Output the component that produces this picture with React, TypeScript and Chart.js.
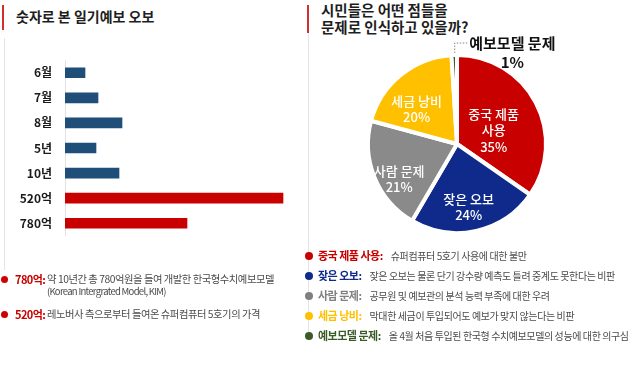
import React, { useEffect, useRef } from 'react';
import { Chart, registerables } from 'chart.js';

Chart.register(...registerables);

// ---------- data ----------
const barCategories = ['6월', '7월', '8월', '5년', '10년', '520억', '780억'];
const barValues = [20, 33, 57, 31, 54, 218, 122];
const barGroups = ['blue', 'blue', 'blue', 'blue', 'blue', 'red', 'red'];

const pieLabels = ['중국 제품 사용', '잦은 오보', '사람 문제', '세금 낭비', '예보모델 문제'];
const pieLabelLines = [['중국 제품', '사용'], ['잦은 오보'], ['사람 문제'], ['세금 낭비'], ['예보모델 문제']];
const pieValues = [35, 24, 21, 20, 1];
const pieDescriptions = [
  '슈퍼컴퓨터 5호기 사용에 대한 불만',
  '잦은 오보는 물론 단기 강수량 예측도 틀려 중계도 못한다는 비판',
  '공무원 및 예보관의 분석 능력 부족에 대한 우려',
  '막대한 세금이 투입되어도 예보가 맞지 않는다는 비판',
  '올 4월 처음 투입된 한국형 수치예보모델의 성능에 대한 의구심',
];

const noteLabels = ['780억:', '520억:'];
const noteTexts = [
  ['약 10년간 총 780억원을 들여 개발한 한국형수치예보모델', '(Korean Intergrated Model, KIM)'],
  ['레노버사 측으로부터 들여온 슈퍼컴퓨터 5호기의 가격'],
];

// ---------- styles ----------
const FONT = '"Noto Sans CJK KR", "Noto Sans", sans-serif';
const groupColors: Record<string, string> = { blue: '#1f4e79', red: '#c80000' };
const pieColors = ['#c80000', '#0f2a8a', '#8a8a8a', '#ffc000', '#3a5a26'];
const legendColors = ['#c80000', '#0f2a8a', '#808080', '#ffc000', '#3a5a26'];
const labelRadiusFrac = [0.44, 0.72, 0.76, 0.6, 0];
const labelAngleShift = [7, 2, -9, -10, 0];

const pieLabelPlugin = {
  id: 'pieLabels',
  afterDatasetsDraw(chart: any) {
    const ctx = chart.ctx;
    const meta = chart.getDatasetMeta(0);
    meta.data.forEach((arc: any, i: number) => {
      const p = arc.getProps(['x', 'y', 'startAngle', 'endAngle', 'outerRadius'], true);
      const mid = (p.startAngle + p.endAngle) / 2;
      const value = pieValues[i] + '%';
      ctx.save();
      if (i === 4) {
        const px = p.x + Math.cos(mid) * p.outerRadius;
        const py = p.y + Math.sin(mid) * p.outerRadius;
        const ly = py - 12;
        ctx.strokeStyle = '#888';
        ctx.lineWidth = 1;
        ctx.setLineDash([1.5, 1.5]);
        ctx.beginPath();
        ctx.moveTo(px + 0.5, py - 2);
        ctx.lineTo(px + 0.5, ly);
        ctx.lineTo(px + 13, ly);
        ctx.stroke();
        ctx.setLineDash([]);
        ctx.fillStyle = '#111';
        ctx.font = 'bold 15px ' + FONT;
        ctx.textBaseline = 'middle';
        ctx.textAlign = 'left';
        const tx = px + 15;
        const label = pieLabelLines[i][0];
        const w = ctx.measureText(label).width;
        ctx.fillText(label, tx, ly);
        ctx.textAlign = 'center';
        ctx.fillText(value, tx + w / 2, py + 7);
      } else {
        const a = mid + (labelAngleShift[i] * Math.PI) / 180;
        const r = p.outerRadius * labelRadiusFrac[i];
        const cx = p.x + Math.cos(a) * r;
        const cy = p.y + Math.sin(a) * r;
        const lines = [...pieLabelLines[i], value];
        const lh = 16.5;
        ctx.fillStyle = '#ffffff';
        ctx.font = '500 13px ' + FONT;
        ctx.textAlign = 'center';
        ctx.textBaseline = 'middle';
        lines.forEach((ln, k) => {
          ctx.fillText(ln, cx, cy + (k - (lines.length - 1) / 2) * lh);
        });
      }
      ctx.restore();
    });
  },
};

function BarChart() {
  const ref = useRef<HTMLCanvasElement>(null);
  useEffect(() => {
    const chart = new Chart(ref.current!, {
      type: 'bar',
      data: {
        labels: barCategories,
        datasets: [
          {
            data: barValues,
            backgroundColor: barGroups.map((g) => groupColors[g]),
            barThickness: 10,
            borderWidth: 0,
          },
        ],
      },
      options: {
        indexAxis: 'y',
        animation: false,
        responsive: false,
        maintainAspectRatio: false,
        layout: { padding: { top: 3, bottom: 3, left: 0, right: 0 } },
        plugins: { legend: { display: false }, tooltip: { enabled: false } },
        scales: {
          x: { display: false, min: 0, max: 235 },
          y: {
            afterFit: (s: any) => {
              s.width = 65;
            },
            grid: { display: false, drawTicks: false },
            border: { display: true, color: '#e2e2e2', width: 1 },
            ticks: {
              padding: 13,
              color: '#1a1a1a',
              font: { family: FONT, size: 12, weight: 'bold' },
            },
          },
        },
      },
    } as any);
    return () => chart.destroy();
  }, []);
  return <canvas ref={ref} width={300} height={216} style={{ position: 'absolute', left: 0, top: 40, width: 300, height: 216 }} />;
}

function PieChart() {
  const ref = useRef<HTMLCanvasElement>(null);
  useEffect(() => {
    const chart = new Chart(ref.current!, {
      type: 'pie',
      data: {
        labels: pieLabels,
        datasets: [
          {
            data: pieValues,
            backgroundColor: pieColors,
            borderColor: '#ffffff',
            borderWidth: 4,
          },
        ],
      },
      options: {
        animation: false,
        responsive: false,
        maintainAspectRatio: false,
        radius: 89,
        layout: { padding: 0 },
        plugins: { legend: { display: false }, tooltip: { enabled: false } },
      },
      plugins: [pieLabelPlugin],
    } as any);
    return () => chart.destroy();
  }, []);
  return <canvas ref={ref} width={240} height={240} style={{ position: 'absolute', left: 337, top: 24, width: 240, height: 240 }} />;
}

export default function App() {
  const abs = (s: React.CSSProperties): React.CSSProperties => ({ position: 'absolute', ...s });
  return (
    <div style={{ position: 'absolute', left: 0, top: 0, width: 640, height: 365, background: '#fff', fontFamily: FONT, overflow: 'hidden' }}>
      {/* left decorations */}
      <div style={abs({ left: 2, top: 5, width: 2, height: 25, background: '#d03030' })} />
      <div style={abs({ left: 4, top: 38, width: 1, height: 232, background: '#e4e4e4' })} />
      <div style={abs({ left: 16, top: 6, fontSize: 14, fontWeight: 700, color: '#1e1e1e', lineHeight: '20px', whiteSpace: 'nowrap' })}>
        숫자로 본 일기예보 오보
      </div>

      {/* middle decorations */}
      <div style={abs({ left: 307, top: 5, width: 2, height: 28, background: '#d03030' })} />
      <div style={abs({ left: 308, top: 33, width: 1, height: 304, background: '#e4e4e4' })} />
      <div style={abs({ left: 321, top: 2, fontSize: 14.5, fontWeight: 700, color: '#1e1e1e', lineHeight: '16.5px', whiteSpace: 'nowrap' })}>
        시민들은 어떤 점들을
        <br />
        문제로 인식하고 있을까?
      </div>

      <BarChart />
      <PieChart />

      {/* left notes */}
      {noteLabels.map((lab, i) => (
        <div key={lab} style={abs({ left: 0, top: i === 0 ? 272 : 307, whiteSpace: 'nowrap' })}>
          <div style={abs({ left: 1, top: 4, width: 7, height: 7, borderRadius: 4, background: '#d00000' })} />
          <div style={abs({ left: 15, top: 0, fontSize: 11, fontWeight: 700, color: '#c80000', letterSpacing: -0.6, lineHeight: '15px' })}>{lab}</div>
          <div style={abs({ left: 47, top: 0, fontSize: 10.3, color: '#4a4a4a', letterSpacing: -0.45, lineHeight: '13px' })}>
            {noteTexts[i].map((t, k) => (
              <div key={k} style={k === 1 ? { fontSize: 9.5, letterSpacing: -0.7 } : undefined}>{t}</div>
            ))}
          </div>
        </div>
      ))}

      {/* right legend */}
      {pieLabels.map((lab, i) => (
        <div key={lab} style={abs({ left: 0, top: [248, 268, 288, 308, 328][i], whiteSpace: 'nowrap', height: 15 })}>
          <div style={abs({ left: 305, top: 4, width: 8, height: 8, borderRadius: 4, background: legendColors[i] })} />
          <div style={abs({ left: 318, top: 0, display: 'flex', alignItems: 'baseline', lineHeight: '15px' })}>
            <span style={{ fontSize: 11, fontWeight: 700, color: legendColors[i], letterSpacing: -0.5 }}>{lab}:</span>
            <span style={{ fontSize: 10, color: '#4a4a4a', letterSpacing: -0.4, marginLeft: 8 }}>{pieDescriptions[i]}</span>
          </div>
        </div>
      ))}
    </div>
  );
}
